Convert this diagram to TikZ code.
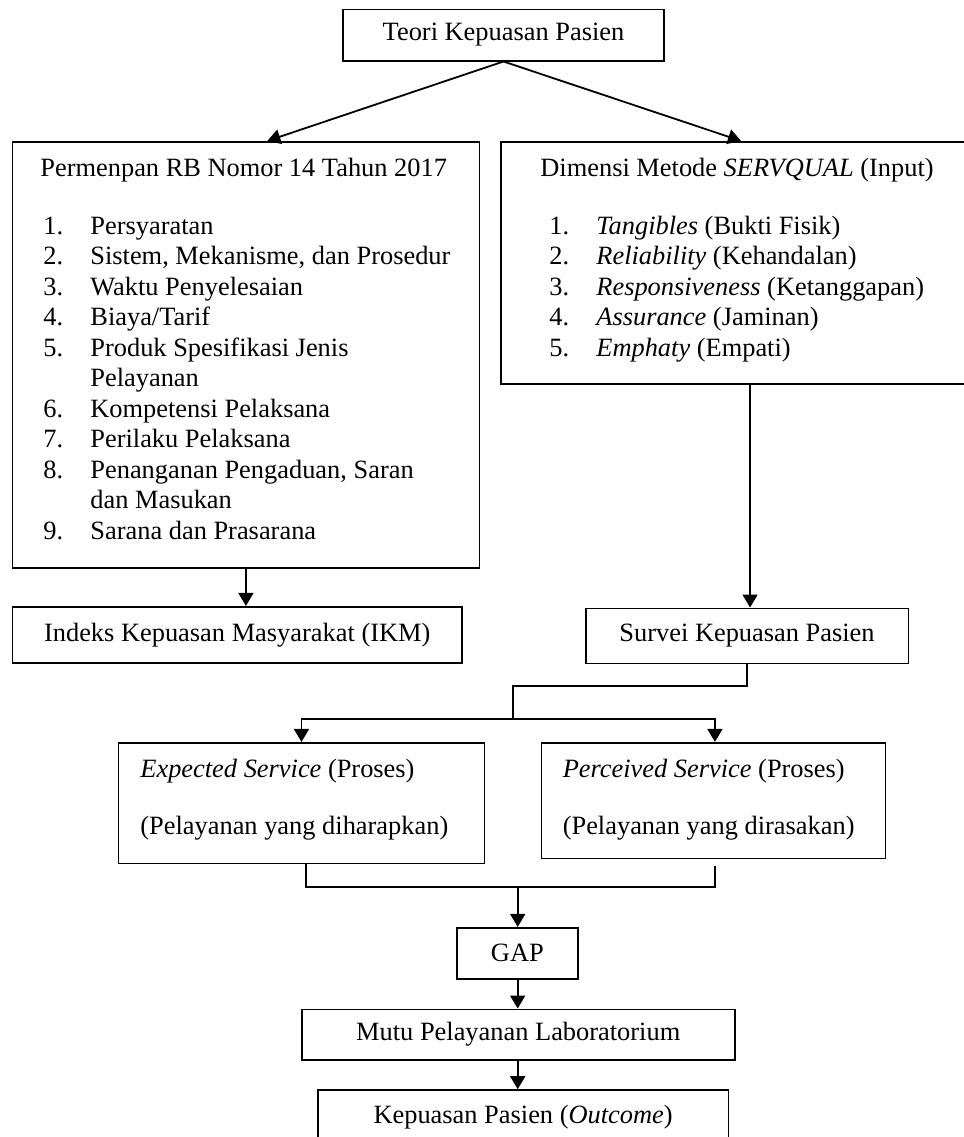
\documentclass[tikz,border=0pt]{standalone}
\usepackage{fontspec}
\setmainfont{Liberation Serif}
\usetikzlibrary{arrows.meta,calc}
\begin{document}
\begin{tikzpicture}[x=0.5pt,y=-0.5pt,
  box/.style={draw,line width=0.8pt,inner sep=0pt,align=center},
  txt/.style={inner sep=0pt,anchor=base west},
  arr/.style={line width=0.9pt,-{Triangle[width=7.5pt,length=6.5pt]}},
  ln/.style={line width=0.9pt},
  font=\fontsize{13.2}{15.25}\selectfont]
\useasboundingbox (0,0) rectangle (964,1137);
\fill[white] (0,0) rectangle (964,1137);
\clip (0,0) rectangle (964,1137);

% boxes
\node[box,minimum width=160.5pt,minimum height=25.7pt] (top) at (503.5,35) {Teori Kepuasan Pasien};
\node[box,minimum width=233.6pt,minimum height=213pt] (lbox) at (245.9,354.7) {};
\node[box,minimum width=235.65pt,minimum height=121.15pt] (rbox) at (736.35,262.85) {};
\node[box,minimum width=224.95pt,minimum height=28.15pt] (ikm) at (237.25,634.85) {Indeks Kepuasan Masyarakat (IKM)};
\node[box,minimum width=161.35pt,minimum height=27.5pt] (sur) at (747.05,635.8) {Survei Kepuasan Pasien};
\node[box,minimum width=182.85pt,minimum height=60.3pt] (exp) at (301.45,803) {};
\node[box,minimum width=171.85pt,minimum height=57.8pt] (per) at (713.45,800.5) {};
\node[box,minimum width=60.55pt,minimum height=25.65pt] (gap) at (517.35,953.35) {GAP};
\node[box,minimum width=216.45pt,minimum height=25.35pt] (mutu) at (518.25,1034.65) {Mutu Pelayanan Laboratorium};
\node[box,minimum width=205.3pt,minimum height=27pt] (kep) at (523.1,1117) {Kepuasan Pasien (\textit{Outcome})};

% left list
\node[txt] (lt) at (40,176) {Permenpan RB Nomor 14 Tahun 2017};
\node[txt] (ln1) at (43,234) {1.};   \node[txt] (lx1) at (90,234) {Persyaratan};
\node[txt] (ln2) at (43,264.5) {2.}; \node[txt] (lx2) at (90,264.5) {Sistem, Mekanisme, dan Prosedur};
\node[txt] (ln3) at (43,295) {3.};   \node[txt] (lx3) at (90,295) {Waktu Penyelesaian};
\node[txt] (ln4) at (43,325.5) {4.}; \node[txt] (lx4) at (90,325.5) {Biaya/Tarif};
\node[txt] (ln5) at (43,356) {5.};   \node[txt] (lx5) at (90,356) {Produk Spesifikasi Jenis};
                                     \node[txt] (lx5b) at (90,386.5) {Pelayanan};
\node[txt] (ln6) at (43,417) {6.};   \node[txt] (lx6) at (90,417) {Kompetensi Pelaksana};
\node[txt] (ln7) at (43,447.5) {7.}; \node[txt] (lx7) at (90,447.5) {Perilaku Pelaksana};
\node[txt] (ln8) at (43,478) {8.};   \node[txt] (lx8) at (90,478) {Penanganan Pengaduan, Saran};
                                     \node[txt] (lx8b) at (90,508.5) {dan Masukan};
\node[txt] (ln9) at (43,539) {9.};   \node[txt] (lx9) at (90,539) {Sarana dan Prasarana};

% right list
\node[txt] (rt) at (540,176) {Dimensi Metode \textit{SERVQUAL} (Input)};
\node[txt] (rn1) at (549,234) {1.};   \node[txt] (rx1) at (596,234) {\textit{Tangibles} (Bukti Fisik)};
\node[txt] (rn2) at (549,264.5) {2.}; \node[txt] (rx2) at (596,264.5) {\textit{Reliability} (Kehandalan)};
\node[txt] (rn3) at (549,295) {3.};   \node[txt] (rx3) at (596,295) {\textit{Responsiveness} (Ketanggapan)};
\node[txt] (rn4) at (549,325.5) {4.}; \node[txt] (rx4) at (596,325.5) {\textit{Assurance} (Jaminan)};
\node[txt] (rn5) at (549,356) {5.};   \node[txt] (rx5) at (596,356) {\textit{Emphaty} (Empati)};

% expected / perceived texts
\node[txt] (e1) at (140,777.7) {\textit{Expected Service} (Proses)};
\node[txt] (e2) at (140,834.3) {(Pelayanan yang diharapkan)};
\node[txt] (p1) at (562.4,777.7) {\textit{Perceived Service} (Proses)};
\node[txt] (p2) at (562.4,834.3) {(Pelayanan yang dirasakan)};

% connectors
\draw[arr] (top.south) -- ($(lbox.north)+(21.5,0)$);
\draw[arr] (top.south) -- ($(rbox.north)+(4.65,0)$);
\draw[arr] (lbox.south) -- (lbox.south |- ikm.north);
\coordinate (ra) at ($(sur.north)+(3,0)$);
\draw[arr] (rbox.south -| ra) -- (ra);
\coordinate (bend) at (513,686);
\coordinate (split) at (513,719.3);
\draw[ln] (sur.south) |- (bend) -- (split);
\draw[arr] (split) -| (exp.north);
\draw[arr] (split) -| ($(per.north)+(1.5,0)$);
\coordinate (merge) at (517.7,887.3);
\draw[ln] ($(exp.south)+(4.5,0)$) |- (merge);
\draw[ln] ($(per.south)+(1.5,6.7)$) |- (merge);
\draw[arr] (merge) -- (merge |- gap.north);
\draw[arr] (merge |- gap.south) -- (merge |- mutu.north);
\draw[arr] (merge |- mutu.south) -- (merge |- kep.north);
\end{tikzpicture}
\end{document}
